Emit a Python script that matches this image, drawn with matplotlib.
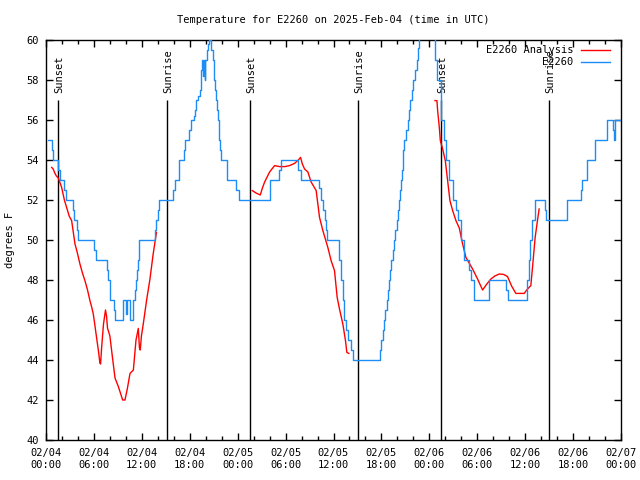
import numpy as np
import matplotlib
matplotlib.use("Agg")
import matplotlib.pyplot as plt
from matplotlib.lines import Line2D

title = "Temperature for E2260 on 2025-Feb-04 (time in UTC)"
ylabel = "degrees F"
obs_label = "E2260"
ana_label = "E2260 Analysis"

# observed (stepped) series: hours since 02/04 00:00 UTC
obs_hours = [0.29, 0.71, 0.83, 1.54, 1.75, 2.3, 2.45, 3.4, 3.5, 3.9, 4.05, 6.04, 6.25, 7.58, 7.71,
             7.96, 8.04, 8.54, 8.67, 9.6, 9.97, 10.1, 10.55, 10.95, 11.15, 11.3, 11.4, 11.5, 11.6,
             11.7, 13.7, 13.83, 14.0, 14.17, 15.92, 16.125, 16.67, 17.25, 17.375, 17.92, 18.2,
             18.5, 18.625, 18.83, 19.04, 19.25, 19.375, 19.46, 19.58, 19.65, 19.75, 19.85, 19.95,
             20.1, 20.3, 20.45, 20.7, 20.85, 21.0, 21.15, 21.25, 21.4, 21.54, 21.65, 21.75, 21.96,
             22.67, 23.75, 24.17, 28.08, 29.17, 29.46, 31.54, 31.875, 34.17, 34.46, 34.67, 34.875,
             35.08, 35.21, 36.67, 36.75, 36.96, 37.17, 37.375, 37.58, 37.79, 38.2, 38.42, 41.875,
             42.0, 42.17, 42.35, 42.5, 42.65, 42.79, 42.95, 43.08, 43.25, 43.42, 43.6, 43.75, 43.9,
             44.04, 44.2, 44.33, 44.45, 44.58, 44.75, 44.875, 45.1, 45.29, 45.45, 45.625, 45.8,
             46.0, 46.2, 46.42, 46.55, 46.67, 47.0, 47.7, 48.2, 48.6, 48.7, 48.92, 49.46, 49.875,
             50.08, 50.5, 50.92, 51.33, 51.54, 51.96, 52.375, 53.0, 53.2, 53.625, 55.45, 57.55,
             57.8, 60.2, 60.45, 60.65, 60.85, 61.17, 62.5, 62.67, 65.25, 66.96, 67.17, 67.75,
             68.8, 70.3, 71.0, 71.125, 71.3, 72.0]
obs_temps = [55, 54.5, 54, 53.5, 53, 52.5, 52, 51.5, 51, 50.5, 50, 49.5, 49, 48.5, 48,
             47.5, 47, 46.5, 46, 47, 46.3, 47, 46, 47, 47.5, 48, 48.5, 49, 49.5,
             50, 50.5, 51, 51.5, 52, 52.5, 53, 54, 54.5, 55, 55.5, 56,
             56.2, 56.5, 57, 57.2, 57.5, 58, 58.5, 59, 58.2, 59, 58, 59,
             59.5, 59.8, 60, 59.5, 59, 58, 57.5, 57, 56.5, 56, 55, 54.5, 54,
             53, 52.5, 52, 53, 53.5, 54, 53.5, 53, 52.6, 52, 51.5, 51,
             50.5, 50, 49.5, 49, 48, 47, 46, 45.5, 45, 44.5, 44, 44.5,
             45, 45.5, 46, 46.5, 47, 47.5, 48, 48.5, 49, 49.5, 50, 50.5, 51,
             51.5, 52, 52.5, 53, 53.5, 54.5, 55, 55.5, 56, 56.5, 57, 57.5,
             58, 58.5, 59, 59.6, 60.5, 61, 61.5, 61, 60.3, 59, 58, 56, 55,
             54, 53, 52, 51.5, 51, 50, 49, 48.5, 48, 47, 48, 47.5,
             47, 48, 49, 50, 51, 52, 51.5, 51, 52, 52.5, 53, 54,
             55, 56, 55.5, 55, 56, 56]

# analysis series (None marks gaps)
ana_hours = [0.71, 0.9, 1.1, 1.3, 1.54, 1.96, 2.3, 2.58, 2.9, 3.21, 3.63, 3.9, 4.25, 4.6, 4.875,
             5.2, 5.5, 5.75, 5.92, 6.1, 6.33, 6.55, 6.75, 6.83, 7.0, 7.2, 7.45, 7.58, 7.7, 8.0,
             8.3, 8.64, 9.06, 9.6, 9.89, 10.2, 10.52, 10.94, 11.27, 11.56, 11.7, 11.8, 11.95,
             12.19, 12.6, 13.0, 13.42, 13.83,
             None,
             25.83, 26.3, 26.83, 27.1, 27.375, 28.0, 28.625, 29.25, 29.9, 30.5, 31.125, 31.6,
             31.875, 32.1, 32.375, 32.79, 33.2, 33.83, 34.25, 34.67, 35.29, 35.7, 36.125, 36.46,
             36.75, 37.17, 37.5, 37.67, 37.92,
             None,
             48.71, 48.95, 49.04, 49.25, 49.375, 49.67, 50.0, 50.29, 50.58, 50.92, 51.33, 51.75,
             52.17, 52.58, 53.42, 54.04, 54.67, 55.2, 55.71, 56.2, 56.75, 57.3, 57.79, 58.3,
             58.83, 59.88, 60.3, 60.71, 60.9, 61.25, 61.54, 61.75]
ana_temps = [53.63, 53.55, 53.35, 53.2, 53.1, 52.63, 52.0, 51.63, 51.2, 50.97, 49.8, 49.4, 48.8, 48.3, 47.97,
             47.5, 46.97, 46.6, 46.3, 45.8, 45.13, 44.5, 43.85, 43.8, 44.8, 45.8, 46.5, 46.2, 45.6, 45.2,
             44.2, 43.1, 42.67, 42.0, 42.0, 42.6, 43.33, 43.5, 45.0, 45.58, 44.6, 44.5, 45.2,
             45.83, 47.0, 48.0, 49.3, 50.38,
             None,
             52.47, 52.35, 52.25, 52.6, 52.9, 53.4, 53.72, 53.67, 53.67, 53.72, 53.83, 54.0,
             54.13, 53.8, 53.55, 53.4, 52.9, 52.47, 51.13, 50.47, 49.63, 48.97, 48.47, 47.13,
             46.55, 45.8, 44.97, 44.38, 44.33,
             None,
             56.97, 56.97, 56.47, 55.63, 54.97, 54.55, 53.97, 52.97, 51.97, 51.47, 50.97, 50.6,
             49.8, 49.13, 48.55, 48.05, 47.5, 47.8, 48.05, 48.2, 48.3, 48.28, 48.17, 47.7,
             47.33, 47.33, 47.55, 47.72, 48.55, 50.13, 50.97, 51.55]

sunset_hours = [1.53, 25.53, 49.46]
sunrise_hours = [15.1, 39.08, 63.02]

xtick_hours = [0, 6, 12, 18, 24, 30, 36, 42, 48, 54, 60, 66, 72]
xtick_labels = ["02/04\n00:00", "02/04\n06:00", "02/04\n12:00", "02/04\n18:00",
                "02/05\n00:00", "02/05\n06:00", "02/05\n12:00", "02/05\n18:00",
                "02/06\n00:00", "02/06\n06:00", "02/06\n12:00", "02/06\n18:00",
                "02/07\n00:00"]
ytick_values = [40, 42, 44, 46, 48, 50, 52, 54, 56, 58, 60]

FONT = "DejaVu Sans Mono"
FS = 7.5
plt.rcParams['font.family'] = [FONT]
plt.rcParams['font.size'] = FS

RED = "#ff0000"
BLUE = "#1e8cf5"

W, H = 640, 480
fig = plt.figure(figsize=(6.4, 4.8), dpi=100)
ax = fig.add_axes([46 / W, 40 / H, 575 / W, 400 / H])

ah = np.array([np.nan if v is None else v for v in ana_hours], dtype=float)
at = np.array([np.nan if v is None else v for v in ana_temps], dtype=float)

ax.plot(ah, at, color=RED, lw=1.0, zorder=3)
ax.plot(obs_hours, obs_temps, color=BLUE, lw=1.0, drawstyle="steps-post", zorder=4)

for h in sunset_hours:
    ax.vlines(h, 40, 57.0, color="black", lw=1.0, zorder=2)
    ax.text(h + 0.15, 57.35, "Sunset", rotation=90, ha="center", va="bottom", fontsize=FS)
for h in sunrise_hours:
    ax.vlines(h, 40, 57.0, color="black", lw=1.0, zorder=2)
    ax.text(h + 0.15, 57.35, "Sunrise", rotation=90, ha="center", va="bottom", fontsize=FS)

ax.set_xlim(0, 72)
ax.set_ylim(40, 60)
ax.set_xticks(xtick_hours)
ax.set_xticklabels(xtick_labels)
ax.set_xticks(np.arange(0, 73, 2), minor=True)
ax.set_yticks(ytick_values)
ax.set_yticklabels([str(v) for v in ytick_values])
ax.tick_params(which="major", direction="in", length=5, width=1, top=True, right=True)
ax.tick_params(which="minor", direction="in", length=3, width=1, top=True, right=True)
ax.tick_params(axis="x", which="major", pad=6)
ax.tick_params(axis="y", which="major", pad=5)
for s in ax.spines.values():
    s.set_linewidth(1.0)

fig.text(333.5 / W, 1 - 20 / H, title, ha="center", va="center", fontsize=FS)
fig.text(10 / W, 240 / H, ylabel, rotation=90, ha="center", va="center", fontsize=FS)

# legend (top right, text right-aligned, sample line on the right)
for label, color, ypix in [(ana_label, RED, 50), (obs_label, BLUE, 62)]:
    fig.text(573 / W, 1 - ypix / H, label, ha="right", va="center", fontsize=FS)
    fig.add_artist(Line2D([581 / W, 610 / W], [1 - ypix / H, 1 - ypix / H],
                          transform=fig.transFigure, color=color, lw=1.0))

fig.savefig("out.png", dpi=100)
